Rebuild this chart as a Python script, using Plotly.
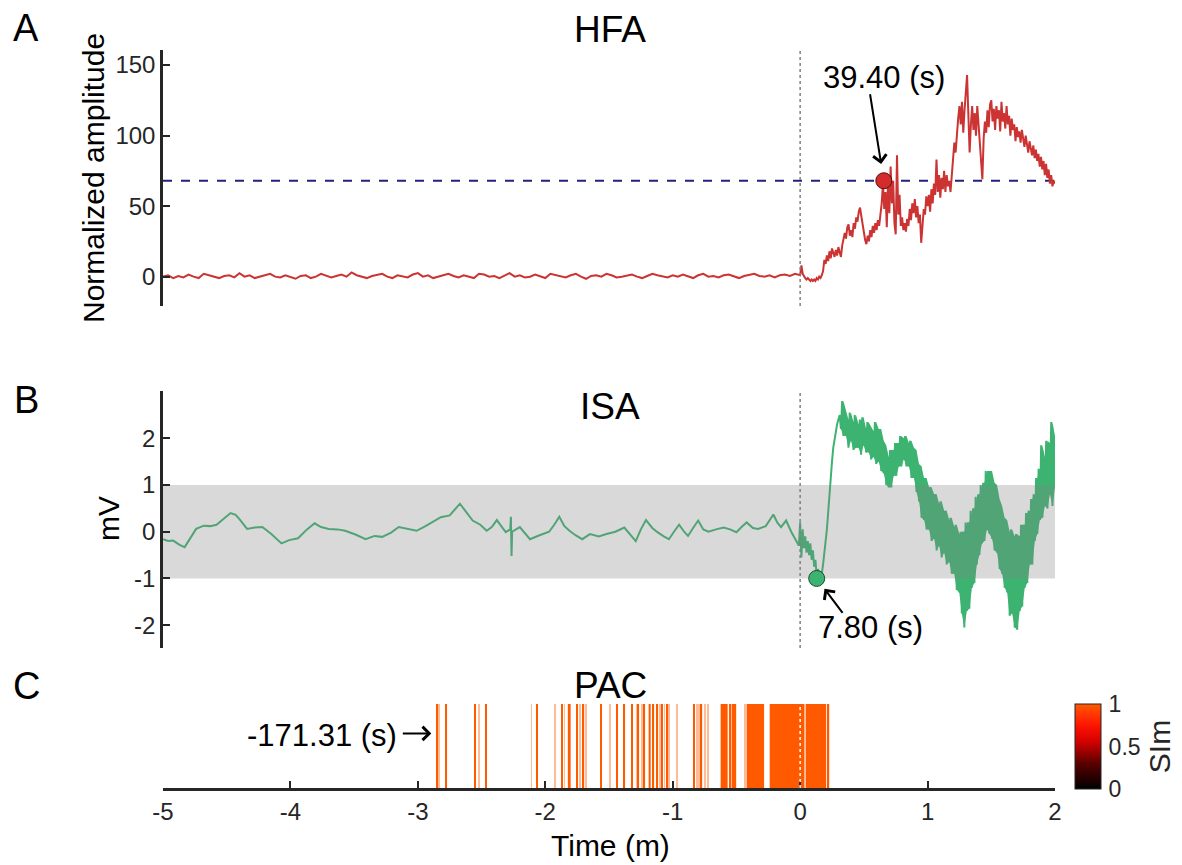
import numpy as np
import plotly.graph_objects as go

# ---------------- data ----------------
# HFA (normalized amplitude); time in minutes
hfa_pre = [0, 1, -1, 0.5, -0.5, 1.5, 0, -1, 2, 1, 0, -1, 0.5, 1, -0.5, 2.5, 0, 1, -1, 0,
           1.5, 2, 0, -0.5, 1, 0, -1.5, 0.5, 1, -1, 0, 2, 1, -0.5, 0.5, 1.5, 0, 3, 1, 0,
           -1, 0.5, 1, 2, 0, -1, 1, 0.5, -0.5, 1.5, 2.5, 0, 1, -1, 0, 1, 2, 0.5, -0.5, 1,
           0, -1, 2, 1.5, 0, 0.5, -1, 1, 2.5, 0, 1, -0.5, 0, 1.5, 0.5, -1, 2, 1, 0, -0.5,
           1, 2, 0, -1.5, 0.5, 1, 0, 2, 1, -0.5, 0, 1, 1.5, 0, -1, 0.5, 2, 1, 0, -0.5,
           1, 0, 1.5, 0.5, -1, 1, 2, 0, 0.5, -0.5, 1, 1.5, 0, -1, 0.5, 1, 2, 0.5, 0, 1,
           -0.5, 1, 1.5, 0.5, 2]
hfa_post = [1, 8, 2, 0, -1, -2, -1, -2, -3, -2, -3, -2, -3, -1, -2, 0, -1, 1, 4, 12,
            9, 15, 11, 18, 13, 20, 16, 14, 19, 15, 21, 17, 14, 22, 26, 31, 27, 35, 37, 29,
            33, 28, 38, 34, 42, 39, 46, 49, 43, 37, 30, 26, 23, 29, 25, 33, 28, 36, 31, 38,
            33, 40, 36, 44, 52, 66, 48, 60, 35, 70, 45, 78, 52, 68, 38, 30, 86, 44, 58, 36,
            42, 33, 38, 32, 41, 36, 48, 40, 52, 45, 55, 42, 50, 38, 44, 24, 35, 48, 44, 57,
            50, 58, 46, 62, 52, 66, 58, 83, 60, 72, 56, 70, 62, 75, 60, 72, 64, 68, 60, 74,
            82, 95, 88, 105, 112, 121, 108, 124, 102, 118, 128, 143, 115, 88, 108, 121, 104, 116, 100, 121,
            108, 92, 84, 69, 98, 110, 102, 118, 106, 122, 125, 110, 119, 104, 121, 112, 118, 103, 124, 110,
            116, 105, 121, 108, 114, 100, 112, 104, 108, 96, 106, 99, 103, 95, 104, 97, 92, 100, 94, 88,
            96, 90, 86, 93, 84, 90, 82, 87, 78, 85, 76, 82, 72, 80, 70, 76, 66, 72, 64, 68, 66]
hfa_threshold = 68
hfa_onset_s = 39.40

# ISA (mV)
isa_pre_t = [-5.00, -4.96, -4.92, -4.87, -4.83, -4.79, -4.74, -4.68, -4.63, -4.58, -4.52, -4.47,
             -4.43, -4.40, -4.34, -4.28, -4.22, -4.15, -4.07, -4.01, -3.94, -3.87, -3.81, -3.76,
             -3.70, -3.63, -3.57, -3.49, -3.41, -3.34, -3.28, -3.21, -3.15, -3.08, -3.01, -2.94,
             -2.88, -2.82, -2.75, -2.67, -2.62, -2.57, -2.51, -2.46, -2.42, -2.38, -2.34, -2.31,
             -2.275, -2.27, -2.265, -2.26, -2.20, -2.12, -2.05, -1.97, -1.93, -1.89, -1.85, -1.81,
             -1.76, -1.71, -1.65, -1.58, -1.52, -1.45, -1.38, -1.33, -1.29, -1.25, -1.21, -1.16,
             -1.12, -1.07, -1.03, -0.99, -0.95, -0.91, -0.88, -0.84, -0.80, -0.76, -0.72, -0.66,
             -0.60, -0.55, -0.50, -0.46, -0.42, -0.37, -0.33, -0.27, -0.21, -0.18, -0.15, -0.11,
             -0.07, -0.03, -0.01]
isa_pre_v = [-0.16, -0.2, -0.19, -0.28, -0.33, -0.15, 0.06, 0.13, 0.12, 0.15, 0.28, 0.40,
             0.36, 0.27, 0.06, 0.09, 0.1, -0.05, -0.25, -0.18, -0.14, 0.05, 0.18, 0.1,
             0.06, 0.05, 0.02, -0.06, -0.16, -0.09, -0.11, -0.02, 0.1, 0.06, 0.02, 0.12,
             0.22, 0.31, 0.35, 0.60, 0.42, 0.24, 0.15, 0.02, 0.1, 0.25, 0.1, -0.01,
             0.05, 0.32, -0.52, 0.0, 0.1, -0.16, -0.08, 0.0, 0.15, 0.32, 0.12, 0.02,
             -0.08, -0.16, -0.05, -0.1, -0.05, 0.0, 0.09, -0.08, -0.2, 0.05, 0.25, 0.08,
             -0.01, -0.1, -0.16, 0.0, 0.15, 0.0, -0.09, 0.08, 0.24, 0.05, 0.0, 0.05,
             0.09, 0.05, -0.01, 0.1, 0.2, 0.08, 0.06, 0.12, 0.37, 0.2, 0.1, 0.24,
             0.0, -0.2, -0.3]
isa_onset_v = [0.2, -0.55, 0.05, -0.35, -0.1, -0.45, -0.2, -0.5, -0.25, -0.6, -0.4,
               -0.75, -0.6, -0.95, -0.8, -0.92, -0.85, -0.9, -0.7, -0.5, -0.2,
               0.05, 0.45, 0.8, 1.15, 1.5, 1.8, 2.0, 2.15, 2.3, 2.4]
isa_hi = [2.5, 2.8, 2.6, 2.4, 2.55, 2.35, 2.5, 2.3, 2.4, 2.45, 2.2, 2.35, 2.25, 2.15, 2.35, 2.2,
          2.2, 1.95, 1.85, 1.6, 1.75, 1.75, 1.9, 1.9, 2.05, 2.0, 2.05, 1.9, 1.95, 1.8, 1.75, 1.45,
          1.4, 1.15, 1.15, 0.95, 0.95, 0.8, 0.8, 0.6, 0.65, 0.45, 0.45, 0.25, 0.3, 0.1, 0.15, -0.05,
          0.0, 0.0, 0.2, 0.2, 0.45, 0.5, 0.75, 0.8, 1.0, 1.05, 1.3, 1.3, 1.3, 1.05, 1.0,
          0.7, 0.55, 0.3, 0.25, 0.0, 0.05, -0.1, -0.05, -0.1, 0.15, 0.15, 0.4, 0.45, 0.7, 0.8,
          1.15, 1.35, 1.85, 1.6, 1.95, 1.9, 2.35, 2.05]
isa_lo = [2.2, 2.05, 2.05, 1.8, 1.95, 1.75, 1.8, 1.8, 1.65, 1.85, 1.7, 1.7, 1.55, 1.6, 1.45, 1.5,
          1.3, 1.25, 1.0, 0.95, 0.95, 1.2, 1.2, 1.4, 1.4, 1.55, 1.4, 1.4, 1.15, 1.15, 0.85, 0.65,
          0.3, 0.25, 0.05, 0.05, -0.2, -0.15, -0.4, -0.3, -0.55, -0.45, -0.7, -0.65, -0.9, -0.9, -1.25, -1.3,
          -1.75, -2.05, -1.7, -1.65, -1.2, -1.1, -0.7, -0.5, -0.25, -0.2, 0.05, -0.05, -0.15, -0.4, -0.45,
          -0.8, -0.9, -1.2, -1.3, -1.8, -1.75, -2.05, -2.1, -1.7, -1.6, -1.2, -1.1, -0.7, -0.7, -0.2,
          -0.05, 0.25, 0.3, 0.55, 0.5, 0.8, 0.55, 0.95]
isa_band = [-1, 1]
isa_threshold = -1
isa_onset_s = 7.80

# PAC significant events (minutes) and their SIm
pac_start = [-2.856, -2.783, -2.557, -2.473, -2.068, -1.876, -1.823, -1.758, -1.706, -1.566,
             -1.444, -1.385, -1.327, -1.273, -1.228, -1.189, -1.158, -1.130, -1.091, -1.052,
             -0.840, -0.781, -0.624, -0.557, -0.538, -0.420, -0.239, 0.043, 0.218]
pac_end = [-2.844, -2.771, -2.547, -2.461, -2.057, -1.864, -1.801, -1.746, -1.695, -1.558,
           -1.434, -1.374, -1.316, -1.264, -1.217, -1.173, -1.146, -1.115, -1.079, -1.040,
           -0.832, -0.769, -0.569, -0.549, -0.502, -0.283, 0.034, 0.204, 0.228]
pac_sim = [1.0] * len(pac_start)
pac_faint = [-2.834, -2.523, -2.108, -1.927, -1.849, -1.731, -1.680, -1.491, -1.284, -1.240,
             -1.103, -1.064, -1.028, -0.966, -0.809, -0.793, -0.750, -0.726, -0.436]
pac_first_s = -171.31

time_ticks = [-5, -4, -3, -2, -1, 0, 1, 2]
hfa_ticks = [0, 50, 100, 150]
isa_ticks = [-2, -1, 0, 1, 2]
x_range = [-5, 2]

# ---------------- layout helpers ----------------
W, H = 1182, 865
L, R = 163, 127
def pxx(px):
    return (px - L) / (W - L - R)
def pyy(py):
    return 1 - py / H
def lab(v):
    return str(v)  # plain hyphen minus like the reference

FONT = "Liberation Sans, Arial, sans-serif"
INK = "#262626"
RED = "#CC3333"
GREEN = "#3CB371"
NAVY = "#22227A"
cscale = [[0, "#000000"], [0.3, "#5A0000"], [0.55, "#D00000"], [0.75, "#FF1400"], [1, "#FF5A00"]]

hfa_t = list(np.linspace(-5, 0, len(hfa_pre), endpoint=False)) + list(np.linspace(0, 2, len(hfa_post)))
hfa_v = hfa_pre + hfa_post

onset_t = list(np.linspace(0, 0.30, len(isa_onset_v)))
env_t = list(np.linspace(0.32, 2.0, len(isa_hi)))
zig_t, zig_v = [], []
for t, h, l in zip(env_t, isa_hi, isa_lo):
    zig_t += [t - 0.01, t]
    zig_v += [h, l]
isa_t = isa_pre_t + onset_t + zig_t
isa_v = isa_pre_v + isa_onset_v + zig_v

fig = go.Figure()

# HFA
fig.add_trace(go.Scatter(x=x_range, y=[hfa_threshold, hfa_threshold], mode="lines",
                         line=dict(color=NAVY, width=2, dash="dash"), xaxis="x", yaxis="y",
                         hoverinfo="skip", showlegend=False))
fig.add_trace(go.Scatter(x=hfa_t, y=hfa_v, mode="lines", line=dict(color=RED, width=2),
                         xaxis="x", yaxis="y", showlegend=False))
fig.add_trace(go.Scatter(x=[hfa_onset_s / 60], y=[hfa_threshold], mode="markers",
                         marker=dict(size=16, color="#D42B2B", line=dict(color="#5A1010", width=1)),
                         xaxis="x", yaxis="y", showlegend=False))

# ISA
fig.add_trace(go.Scatter(x=env_t + env_t[::-1], y=isa_hi + isa_lo[::-1], mode="lines",
                         fill="toself", fillcolor=GREEN, line=dict(width=0),
                         xaxis="x2", yaxis="y2", hoverinfo="skip", showlegend=False))
fig.add_trace(go.Scatter(x=isa_t, y=isa_v, mode="lines", line=dict(color=GREEN, width=2),
                         xaxis="x2", yaxis="y2", showlegend=False))
fig.add_trace(go.Scatter(x=[x_range[0], x_range[1], x_range[1], x_range[0], x_range[0]],
                         y=[isa_band[0], isa_band[0], isa_band[1], isa_band[1], isa_band[0]],
                         mode="lines", fill="toself", fillcolor="rgba(128,128,128,0.3)",
                         line=dict(width=0), xaxis="x2", yaxis="y2", hoverinfo="skip",
                         showlegend=False))
fig.add_trace(go.Scatter(x=[isa_onset_s / 60], y=[isa_threshold], mode="markers",
                         marker=dict(size=16, color=GREEN, line=dict(color="#1E4A30", width=1)),
                         xaxis="x2", yaxis="y2", showlegend=False))

# PAC
pac_c = [(a + b) / 2 for a, b in zip(pac_start, pac_end)]
pac_w = [b - a for a, b in zip(pac_start, pac_end)]
fig.add_trace(go.Bar(x=pac_c, y=[1] * len(pac_c), width=pac_w, base=0,
                     marker=dict(color=pac_sim, colorscale=cscale, cmin=0, cmax=1, line=dict(width=0),
                                 showscale=True,
                                 colorbar=dict(x=pxx(1075), xanchor="left", xpad=0, ypad=0,
                                               y=pyy(746.5), yanchor="middle", len=85 / H,
                                               lenmode="fraction", thickness=26,
                                               outlinecolor=INK, outlinewidth=1,
                                               tickvals=[0, 0.5, 1], ticktext=["0", "0.5", "1"],
                                               ticks="outside", ticklen=3, tickcolor="white",
                                               tickfont=dict(size=23, color=INK, family=FONT),
                                               title=dict(text="SIm", side="right",
                                                          font=dict(size=30, color=INK, family=FONT)))),
                     xaxis="x3", yaxis="y3", showlegend=False))
fig.add_trace(go.Bar(x=pac_faint, y=[1] * len(pac_faint), width=0.007, base=0,
                     marker=dict(color="#FF5A00", line=dict(width=0)), opacity=0.4,
                     xaxis="x3", yaxis="y3", showlegend=False))

yax = dict(showline=True, linecolor=INK, linewidth=2.5, ticks="inside", ticklen=7, tickwidth=2,
           tickcolor=INK, showgrid=False, zeroline=False,
           tickfont=dict(size=24, color=INK, family=FONT))
fig.update_layout(
    width=W, height=H, margin=dict(l=L, r=R, t=0, b=0, autoexpand=False),
    plot_bgcolor="white", paper_bgcolor="white", barmode="overlay",
    font=dict(family=FONT, color=INK),
    xaxis=dict(domain=[0, 1], range=x_range, visible=False, anchor="y"),
    yaxis=dict(domain=[pyy(306), pyy(50)], range=[-20.8, 160.7], tickvals=hfa_ticks,
               ticktext=[lab(v) for v in hfa_ticks], anchor="x", **yax),
    xaxis2=dict(domain=[0, 1], range=x_range, visible=False, anchor="y2"),
    yaxis2=dict(domain=[pyy(648), pyy(390.7)], range=[-2.49, 3.02], tickvals=isa_ticks,
                ticktext=[lab(v) for v in isa_ticks], anchor="x2", **yax),
    xaxis3=dict(domain=[0, 1], range=x_range, anchor="y3", showline=True, linecolor=INK,
                linewidth=2.5, ticks="inside", ticklen=7, tickwidth=2, tickcolor=INK,
                tickvals=time_ticks, ticktext=[lab(v) for v in time_ticks],
                showgrid=False, zeroline=False,
                tickfont=dict(size=24, color=INK, family=FONT)),
    yaxis3=dict(domain=[pyy(788), pyy(704)], range=[0, 1], visible=False, anchor="x3"),
)

shapes = [
    dict(type="line", xref="x", yref="y domain", x0=0, x1=0, y0=0, y1=1,
         line=dict(color="#808080", width=1.5, dash="dot")),
    dict(type="line", xref="x2", yref="y2 domain", x0=0, x1=0, y0=0, y1=1,
         line=dict(color="#808080", width=1.5, dash="dot")),
    dict(type="line", xref="x3", yref="y3", x0=0, x1=0, y0=0, y1=1,
         line=dict(color="white", width=1.5, dash="dot")),
]
fig.update_layout(shapes=shapes)

ann = []
def text(x, y, s, size, **kw):
    d = dict(x=x, y=y, xref="paper", yref="paper", text=s, showarrow=False,
             font=dict(size=size, color="black", family=FONT), xanchor="center", yanchor="middle")
    d.update(kw)
    ann.append(d)

# panel letters / titles
text(pxx(26), pyy(28), "A", 38)
text(pxx(26), pyy(400), "B", 38)
text(pxx(26), pyy(686), "C", 38)
text(pxx(610), pyy(30), "HFA", 37)
text(pxx(610), pyy(406), "ISA", 37)
text(pxx(610), pyy(685), "PAC", 37)
text(pxx(93), pyy(178), "Normalized amplitude", 30, textangle=-90)
text(pxx(108), pyy(519), "mV", 30, textangle=-90)
text(pxx(610), pyy(845), "Time (m)", 30)

# value annotations
ann.append(dict(x=hfa_onset_s / 60, y=hfa_threshold, xref="x", yref="y", text="",
                showarrow=True, ax=-14, ay=-88, arrowhead=4, arrowsize=1.3, arrowwidth=2,
                arrowcolor="black", standoff=17))
text(pxx(884), pyy(77), f"{hfa_onset_s:.2f} (s)", 31)
ann.append(dict(x=isa_onset_s / 60, y=isa_threshold, xref="x2", yref="y2", text="",
                showarrow=True, ax=27, ay=36, arrowhead=4, arrowsize=1.3, arrowwidth=2,
                arrowcolor="black", standoff=13))
text(pxx(870), pyy(627), f"{isa_onset_s:.2f} (s)", 31)
ann.append(dict(x=pac_first_s / 60, y=0.65, xref="x3", yref="y3", text="",
                showarrow=True, ax=-35, ay=0, arrowhead=4, arrowsize=1.3, arrowwidth=2,
                arrowcolor="black", standoff=5))
text(pxx(322), pyy(735), f"{pac_first_s:.2f} (s)", 31)

fig.update_layout(annotations=ann)
fig.write_html("out.html", config={"displayModeBar": False},
               post_script="document.body.style.margin='0';document.body.style.overflow='hidden';")
